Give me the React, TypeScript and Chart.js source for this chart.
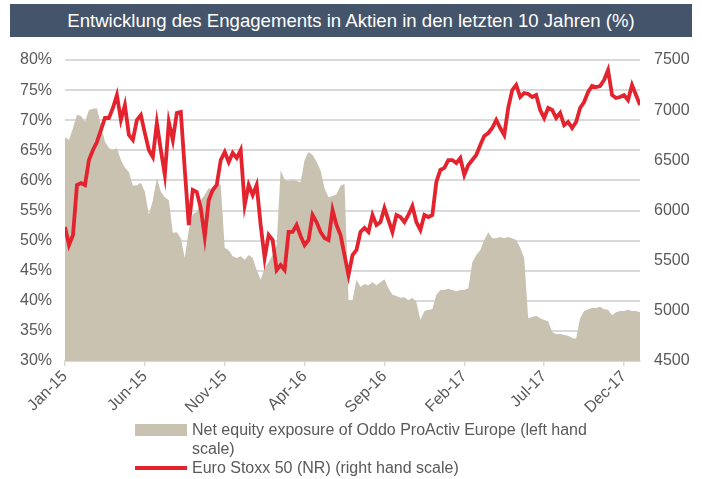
import React, { useEffect, useRef } from "react";
import { Chart, registerables } from "chart.js";

Chart.register(...registerables);

// x position of each sample, in months since Jan 2015 (one sample per quarter month)
const STEP_MONTHS = 0.25;

const tickMonths = [0, 5, 10, 15, 20, 25, 30, 35];
const tickLabels = ["Jan-15", "Jun-15", "Nov-15", "Apr-16", "Sep-16", "Feb-17", "Jul-17", "Dec-17"];

// Net equity exposure of Oddo ProActiv Europe (%), left scale
const exposure = [
  67.2, 66.7, 68.7, 70.9, 70.7, 69.7, 71.7, 71.9, 72.0, 69.2,
  66.4, 65.4, 65.0, 65.4, 63.4, 62.1, 61.4, 59.1, 59.2, 59.6,
  58.1, 54.3, 56.7, 60.4, 58.1, 57.2, 56.7, 51.3, 51.4, 50.4,
  47.1, 51.8, 54.4, 54.8, 56.7, 57.6, 58.7, 58.4, 59.6, 59.2,
  48.8, 48.4, 47.4, 47.1, 47.4, 46.8, 47.6, 47.1, 45.1, 43.5,
  45.4, 46.4, 47.6, 49.3, 61.7, 60.1, 59.9, 60.1, 59.9, 59.7,
  63.4, 64.7, 64.2, 63.1, 61.7, 58.7, 57.2, 57.4, 57.7, 59.1,
  59.4, 40.1, 40.1, 43.5, 42.3, 42.8, 42.6, 43.1, 42.6, 43.1,
  43.6, 42.1, 41.0, 40.8, 40.5, 40.6, 40.1, 40.5, 39.8, 36.8,
  38.3, 38.5, 38.6, 41.0, 41.8, 41.8, 42.0, 41.8, 41.6, 41.8,
  41.8, 42.1, 46.4, 47.6, 48.4, 50.1, 51.4, 50.4, 50.4, 50.6,
  50.4, 50.6, 50.4, 50.1, 48.8, 47.1, 37.1, 37.3, 37.5, 37.1,
  36.8, 36.6, 34.8, 34.5, 34.5, 34.3, 34.2, 33.8, 33.7, 37.1,
  38.3, 38.6, 38.8, 38.8, 39.0, 38.6, 38.5, 37.6, 38.1, 38.3,
  38.3, 38.5, 38.3, 38.3, 38.1,
];

// Euro Stoxx 50 (NR), right scale
const stoxx = [
  5836, 5656, 5756, 6254, 6274, 6254, 6503, 6603, 6683, 6802,
  6922, 6922, 7022, 7151, 6902, 7051, 6752, 6703, 6902, 6952,
  6772, 6603, 6533, 6872, 6603, 6354, 6882, 6703, 6972, 6982,
  6404, 5855, 6204, 6184, 6025, 5736, 6105, 6204, 6254, 6503,
  6583, 6483, 6573, 6523, 6603, 6055, 6254, 6154, 6254, 5855,
  5527, 5756, 5706, 5407, 5457, 5407, 5786, 5786, 5855, 5746,
  5656, 5706, 5955, 5885, 5786, 5726, 5706, 6005, 5855, 5756,
  5556, 5357, 5556, 5606, 5786, 5826, 5786, 5955, 5855, 5885,
  6025, 5905, 5786, 5955, 5935, 5885, 5955, 6045, 5885, 5806,
  5955, 5935, 5955, 6284, 6404, 6424, 6503, 6503, 6473, 6523,
  6354, 6453, 6503, 6553, 6653, 6743, 6772, 6822, 6902, 6822,
  6752, 7022, 7201, 7251, 7131, 7171, 7161, 7131, 7151, 7002,
  6922, 7022, 7002, 6922, 6972, 6852, 6882, 6822, 6882, 7022,
  7081, 7181, 7241, 7231, 7241, 7301, 7400, 7151, 7121, 7131,
  7151, 7101, 7251, 7151, 7051,
];

const exposureLabel = "Net equity exposure of Oddo ProActiv Europe (left hand scale)";
const stoxxLabel = "Euro Stoxx 50 (NR) (right hand scale)";
const title = "Entwicklung des Engagements in Aktien in den letzten 10 Jahren (%)";

const GREY = "#C9C2B1";
const RED = "#E3232E";
const TEXT = "#595959";
const GRID = "#D9D9D9";
const FONT = "Arial, 'Liberation Sans', sans-serif";

export default function App() {
  const ref = useRef<HTMLCanvasElement | null>(null);

  useEffect(() => {
    if (!ref.current) return;
    const chart = new Chart(ref.current, {
      type: "line",
      data: {
        datasets: [
          {
            label: stoxxLabel,
            data: stoxx.map((v, i) => ({ x: i * STEP_MONTHS, y: v })),
            yAxisID: "y1",
            borderColor: RED,
            borderWidth: 3.8,
            pointRadius: 0,
            fill: false,
            tension: 0,
            order: 0,
          },
          {
            label: exposureLabel,
            data: exposure.map((v, i) => ({ x: i * STEP_MONTHS, y: v })),
            yAxisID: "y",
            borderColor: GREY,
            backgroundColor: GREY,
            borderWidth: 0,
            pointRadius: 0,
            fill: "start",
            tension: 0,
            order: 1,
          },
        ],
      },
      options: {
        responsive: false,
        animation: false,
        devicePixelRatio: 1,
        layout: { padding: { top: 60, left: 0, right: 0, bottom: 0 } },
        plugins: { legend: { display: false }, tooltip: { enabled: false }, title: { display: false } },
        scales: {
          x: {
            type: "linear",
            min: 0,
            max: 36,
            afterBuildTicks: (scale: any) => {
              scale.ticks = tickMonths.map((v) => ({ value: v }));
            },
            afterFit: (scale: any) => {
              scale.height = 118;
            },
            ticks: {
              autoSkip: false,
              minRotation: 45,
              maxRotation: 45,
              padding: 1,
              color: TEXT,
              font: { family: FONT, size: 16 },
              callback: (v: any) => {
                const i = tickMonths.indexOf(Number(v));
                return i >= 0 ? tickLabels[i] : "";
              },
            },
            grid: { drawOnChartArea: false, drawTicks: true, tickLength: 5, color: GRID, lineWidth: 1.5 },
            border: { display: true, color: GRID, width: 2 },
          },
          y: {
            position: "left",
            min: 30,
            max: 80,
            afterFit: (scale: any) => {
              scale.width = 65;
            },
            ticks: {
              stepSize: 5,
              padding: 13,
              color: TEXT,
              font: { family: FONT, size: 16 },
              callback: (v: any) => v + "%",
            },
            grid: { drawTicks: false, color: GRID, lineWidth: 2 },
            border: { display: false },
          },
          y1: {
            position: "right",
            min: 4500,
            max: 7500,
            afterFit: (scale: any) => {
              scale.width = 62;
            },
            ticks: {
              stepSize: 500,
              padding: 14,
              color: TEXT,
              font: { family: FONT, size: 16 },
              callback: (v: any) => String(v),
            },
            grid: { drawOnChartArea: false, drawTicks: false },
            border: { display: false },
          },
        },
      },
    });
    return () => chart.destroy();
  }, []);

  return (
    <div style={{ position: "fixed", left: 0, top: 0, width: 702, height: 479, background: "#fff", fontFamily: FONT }}>
      <canvas ref={ref} width={702} height={479} style={{ position: "absolute", left: 0, top: 0, width: 702, height: 479 }} />
      <div
        style={{
          position: "absolute",
          left: 10,
          top: 4,
          width: 682,
          height: 33,
          background: "#44546A",
          color: "#fff",
          fontSize: 18.6,
          lineHeight: "33px",
          textAlign: "center",
        }}
      >
        {title}
      </div>
      <div style={{ position: "absolute", left: 135, top: 424, width: 52, height: 12, background: GREY }} />
      <div style={{ position: "absolute", left: 135, top: 466, width: 52, height: 3.5, background: RED }} />
      <div
        style={{
          position: "absolute",
          left: 192,
          top: 420,
          width: 440,
          color: TEXT,
          fontSize: 16,
          lineHeight: "19px",
        }}
      >
        Net equity exposure of Oddo ProActiv Europe (left hand
        <br />
        scale)
        <br />
        {stoxxLabel}
      </div>
    </div>
  );
}
